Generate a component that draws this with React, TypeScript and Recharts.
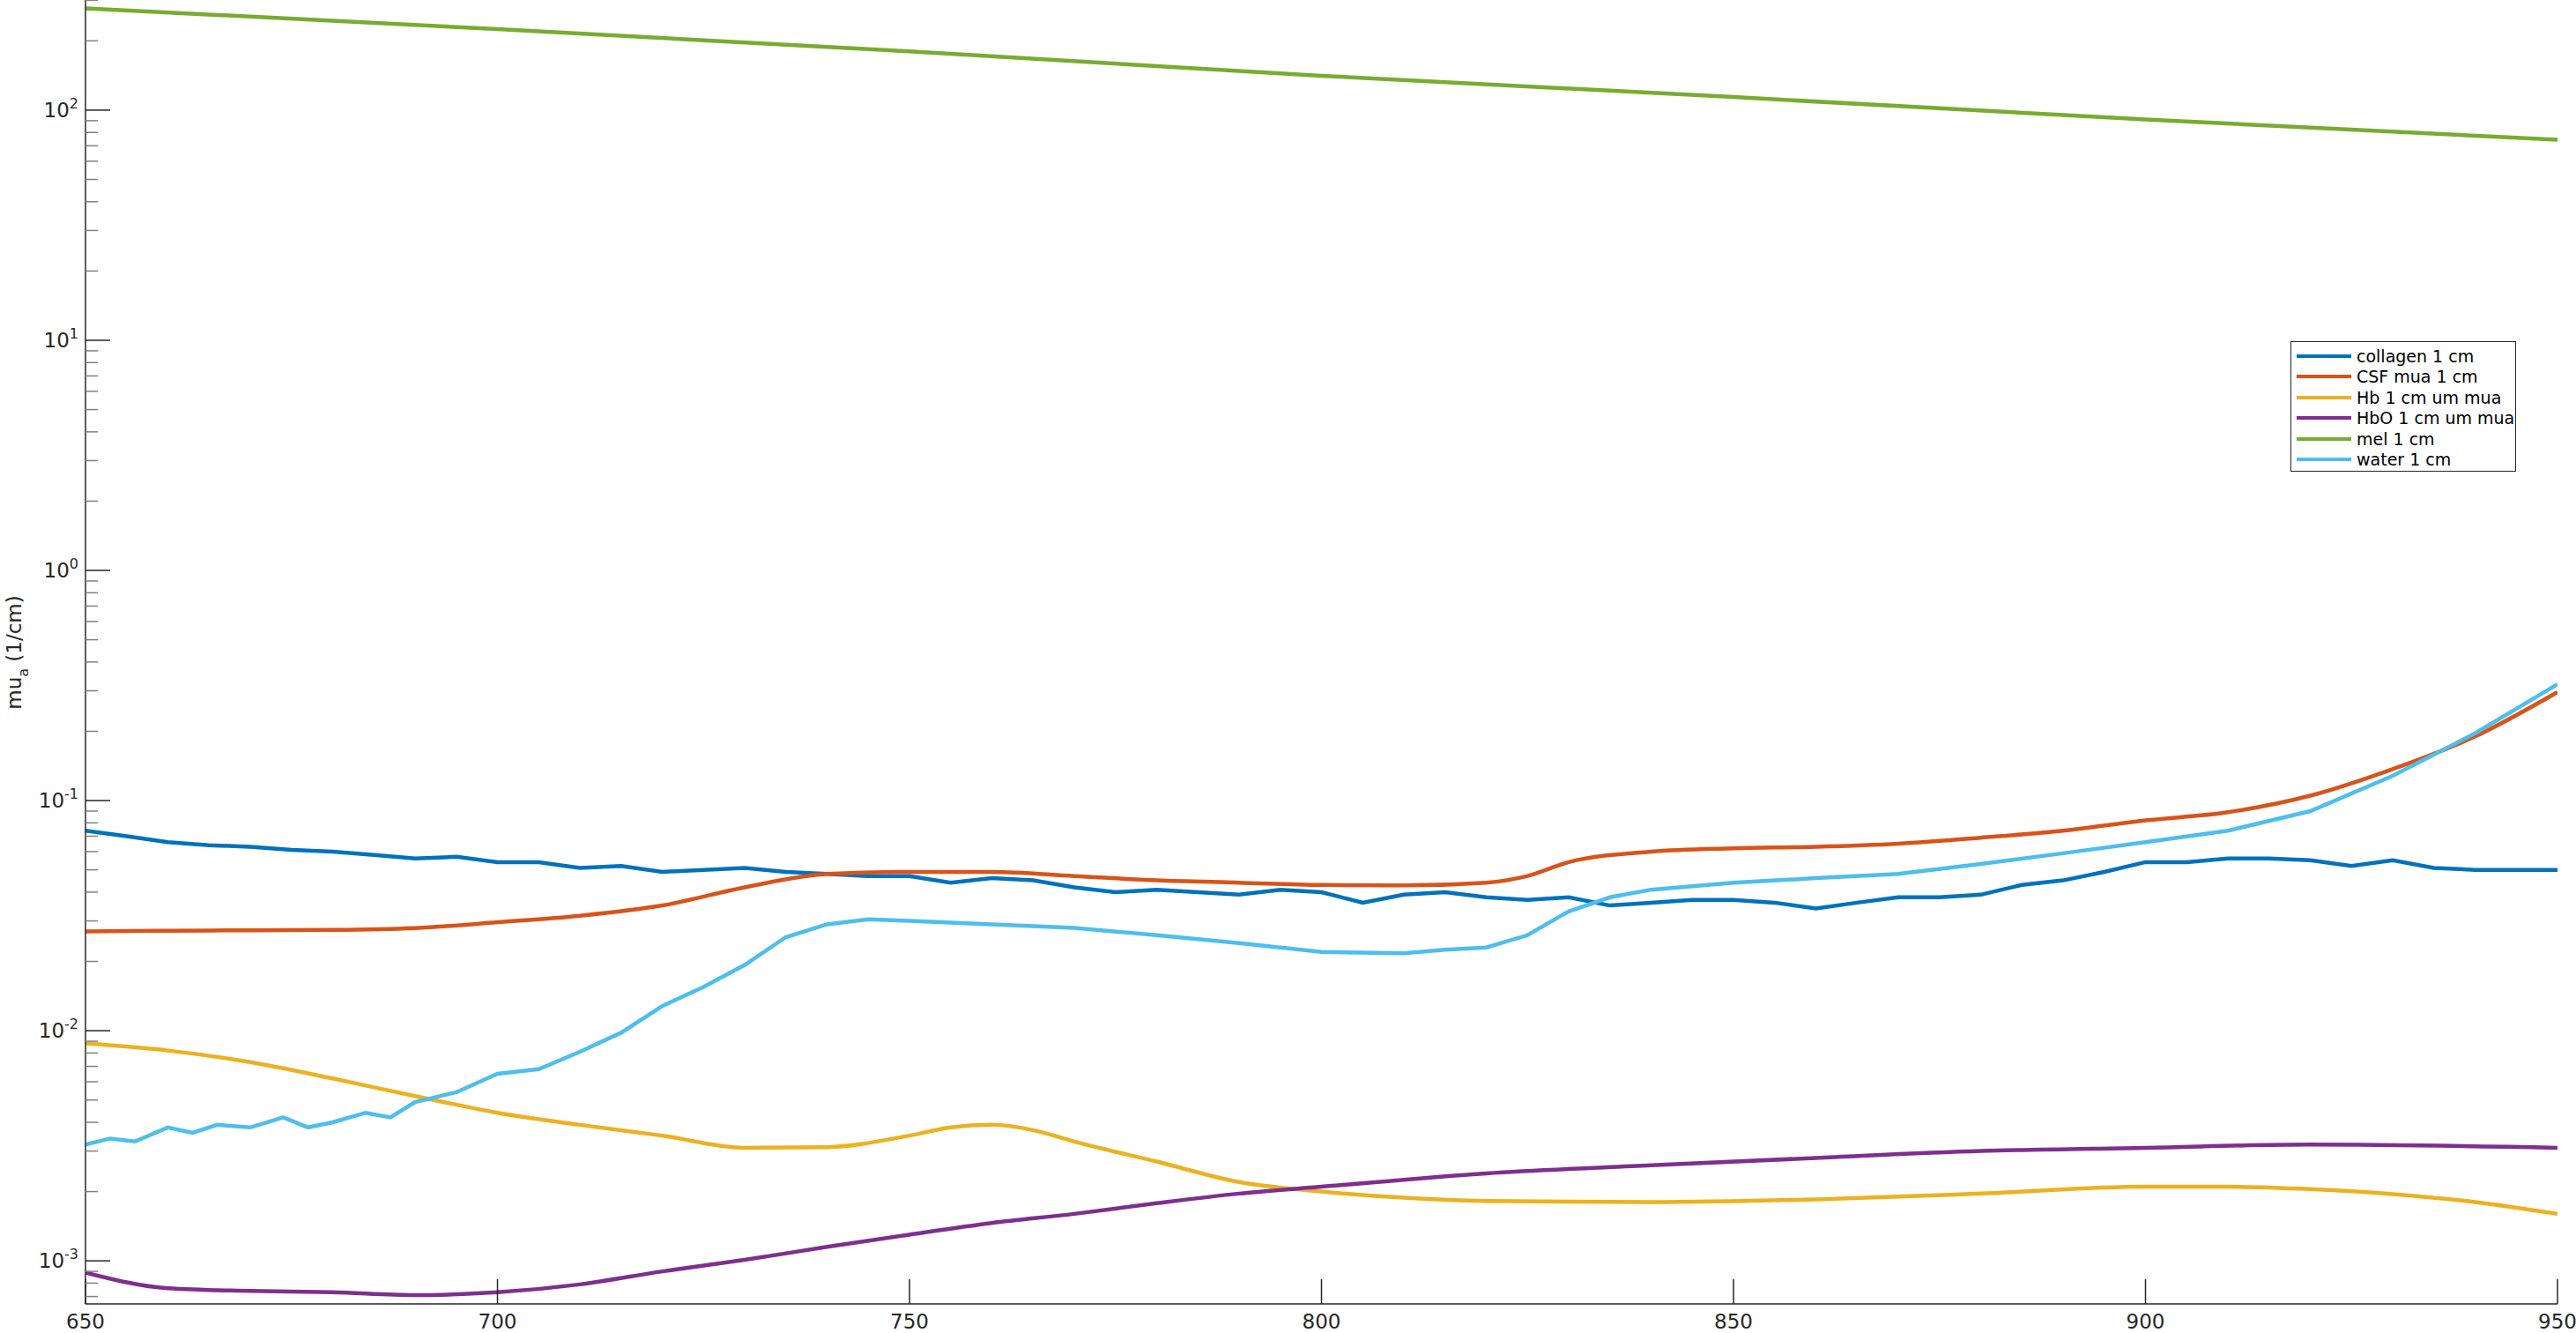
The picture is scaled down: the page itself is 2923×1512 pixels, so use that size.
import { Line, LineChart, XAxis, YAxis } from "recharts";

const COLLAGEN_X = Array.from({ length: 61 }, (_, i) => 650 + i * 5);
const COLLAGEN = [
  0.074, 0.07, 0.066, 0.064, 0.063, 0.061, 0.06, 0.058, 0.056, 0.057, 0.054, 0.054, 0.051, 0.052, 0.049, 0.05,
  0.051, 0.049, 0.048, 0.047, 0.047, 0.044, 0.046, 0.045, 0.042, 0.04, 0.041, 0.04, 0.039, 0.041, 0.04, 0.036,
  0.039, 0.04, 0.038, 0.037, 0.038, 0.035, 0.036, 0.037, 0.037, 0.036, 0.034, 0.036, 0.038, 0.038, 0.039, 0.043,
  0.045, 0.049, 0.054, 0.054, 0.056, 0.056, 0.055, 0.052, 0.055, 0.051, 0.05, 0.05, 0.05
];

const CSF_X = [650, 660, 670, 680, 690, 700, 710, 720, 730, 740, 750, 760, 770, 780, 790, 800, 810, 820, 825, 830, 840, 850, 860, 870, 880, 890, 900, 910, 920, 930, 940, 950];
const CSF = [0.027, 0.0272, 0.0273, 0.0274, 0.0279, 0.0296, 0.0316, 0.035, 0.042, 0.048, 0.049, 0.049, 0.047, 0.045, 0.044, 0.043, 0.0428, 0.044, 0.047, 0.054, 0.06, 0.062, 0.063, 0.065, 0.069, 0.074, 0.082, 0.089, 0.105, 0.137, 0.19, 0.296];

const WATER_X = [650, 653, 656, 660, 663, 666, 670, 674, 677, 680, 684, 687, 690, 695, 700, 705, 710, 715, 720, 725, 730, 735, 740, 745, 750, 760, 770, 780, 790, 800, 810, 815, 820, 825, 830, 835, 840, 850, 860, 870, 880, 890, 900, 910, 920, 930, 940, 950];
const WATER = [0.0032, 0.0034, 0.0033, 0.0038, 0.0036, 0.0039, 0.0038, 0.0042, 0.0038, 0.004, 0.0044, 0.0042, 0.0049, 0.0054, 0.0065, 0.0068, 0.0081, 0.0098, 0.0128, 0.0155, 0.0193, 0.0255, 0.029, 0.0305, 0.03, 0.029, 0.028, 0.026, 0.024, 0.022, 0.0217, 0.0225, 0.023, 0.026, 0.033, 0.038, 0.041, 0.044, 0.046, 0.048, 0.053, 0.059, 0.066, 0.074, 0.09, 0.128, 0.196, 0.32];

const HB_X = [650, 660, 670, 680, 690, 700, 710, 720, 730, 740, 750, 755, 760, 765, 770, 780, 790, 800, 810, 820, 840, 860, 880, 900, 910, 920, 930, 940, 950];
const HB = [0.0088, 0.0082, 0.0073, 0.0062, 0.0052, 0.0044, 0.0039, 0.0035, 0.0031, 0.00312, 0.0035, 0.0038, 0.0039, 0.0037, 0.0033, 0.0027, 0.0022, 0.002, 0.00188, 0.00182, 0.0018, 0.00185, 0.00196, 0.0021, 0.0021, 0.00205, 0.00195, 0.0018, 0.0016];

const HBO_X = [650, 660, 670, 680, 690, 700, 710, 720, 730, 740, 750, 760, 770, 780, 790, 800, 820, 840, 860, 880, 900, 920, 950];
const HBO = [0.00089, 0.00076, 0.00074, 0.00073, 0.00071, 0.00073, 0.00079, 0.0009, 0.00101, 0.00115, 0.0013, 0.00146, 0.0016, 0.00178, 0.00196, 0.0021, 0.0024, 0.0026, 0.0028, 0.003, 0.0031, 0.0032, 0.0031];

const MEL_X = [650, 700, 750, 800, 850, 900, 950];
const MEL = [277, 225, 180, 141, 114, 91, 74.4];

const X_TICKS = [650, 700, 750, 800, 850, 900, 950];
const Y_TICKS: number[] = [];
for (let e = -4; e <= 2; e++) for (let m = 1; m <= 9; m++) {
  const v = m * Math.pow(10, e);
  if (v >= 0.00065 && v <= 300) Y_TICKS.push(v);
}

const zip = (xs: number[], ys: number[]) => xs.map((x, i) => ({ x, y: ys[i] }));

const SERIES = [
  { name: "collagen 1 cm", color: "#0072BD", curve: "linear", data: zip(COLLAGEN_X, COLLAGEN) },
  { name: "CSF mua 1 cm", color: "#D95319", curve: "monotone", data: zip(CSF_X, CSF) },
  { name: "Hb 1 cm um mua", color: "#EDB120", curve: "monotone", data: zip(HB_X, HB) },
  { name: "HbO 1 cm um mua", color: "#7E2F8E", curve: "monotone", data: zip(HBO_X, HBO) },
  { name: "mel 1 cm", color: "#77AC30", curve: "linear", data: zip(MEL_X, MEL) },
  { name: "water 1 cm", color: "#4DBEEE", curve: "linear", data: zip(WATER_X, WATER) }
];

const FONT = "'DejaVu Sans', sans-serif";

function YTick(props: any) {
  const { x, y, payload } = props;
  const lg = Math.log10(payload.value);
  const major = Math.abs(lg - Math.round(lg)) < 1e-6;
  return (
    <g>
      <line x1={x} x2={x + (major ? 28 : 14)} y1={y} y2={y} stroke={major ? "#262626" : "#808080"} strokeWidth={1.5} />
      {major && (
        <text x={x - 8} y={y + 8} textAnchor="end" fontSize={23} fill="#262626" fontFamily={FONT}>
          10<tspan dy={-10} fontSize={16}>{Math.round(lg)}</tspan>
        </text>
      )}
    </g>
  );
}

function XTick(props: any) {
  const { x, y, payload } = props;
  return (
    <g>
      <line x1={x} x2={x} y1={y} y2={y - 28} stroke="#262626" strokeWidth={1.5} />
      <text x={x} y={y + 28} textAnchor="middle" fontSize={23} fill="#262626" fontFamily={FONT}>{payload.value}</text>
    </g>
  );
}

export default function App() {
  return (
    <div style={{ position: "absolute", left: 0, top: 0, width: 2923, height: 1512, background: "#fff", fontFamily: FONT }}>
      <LineChart width={2923} height={1512} margin={{ top: 0, right: 21, bottom: 0, left: 0 }}>
        <XAxis
          type="number"
          dataKey="x"
          domain={[650, 950]}
          ticks={X_TICKS}
          allowDataOverflow
          tickSize={0}
          tickMargin={0}
          tick={<XTick />}
          height={33}
          stroke="#262626"
          strokeWidth={1.5}
        />
        <YAxis
          type="number"
          dataKey="y"
          scale="log"
          domain={[0.00065, 301]}
          ticks={Y_TICKS}
          allowDataOverflow
          interval={0}
          tickSize={0}
          tickMargin={0}
          tick={<YTick />}
          width={97}
          stroke="#262626"
          strokeWidth={1.5}
        />
        {SERIES.map((s) => (
          <Line
            key={s.name}
            data={s.data}
            dataKey="y"
            type={s.curve as any}
            stroke={s.color}
            strokeWidth={4.5}
            dot={false}
            isAnimationActive={false}
          />
        ))}
      </LineChart>
      <svg style={{ position: "absolute", left: 0, top: 0 }} width={60} height={1512}>
        <text transform="translate(24 740) rotate(-90)" textAnchor="middle" fontSize={23} fill="#262626" fontFamily={FONT}>
          mu<tspan dy={8} fontSize={16}>a</tspan><tspan dy={-8}> (1/cm)</tspan>
        </text>
      </svg>
      <div style={{ position: "absolute", left: 2599, top: 387, width: 256, height: 148, border: "1.5px solid #262626", background: "#fff", boxSizing: "border-box", padding: "4px 0 0 6px" }}>
        {SERIES.map((s) => (
          <div key={s.name} style={{ display: "flex", alignItems: "center", height: 23.5, fontSize: 19, color: "#000", whiteSpace: "nowrap" }}>
            <span style={{ display: "inline-block", flex: "0 0 62px", height: 4, background: s.color, marginRight: 6 }} />
            {s.name}
          </div>
        ))}
      </div>
    </div>
  );
}
